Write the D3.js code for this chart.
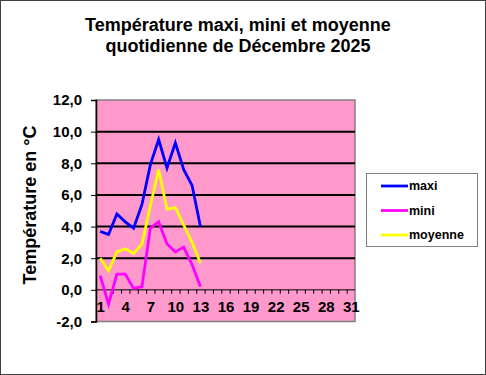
<!DOCTYPE html>
<html><head><meta charset="utf-8">
<script src="https://cdn.jsdelivr.net/npm/d3@7"></script>
<style>
html,body{margin:0;padding:0;background:#fff;}
svg{display:block;font-family:"Liberation Sans",Arial,sans-serif;}
</style></head>
<body>
<svg id="chart" width="486" height="375"></svg>
<script>
const days = d3.range(1, 14);
const maxi = [3.7, 3.5, 4.8, 4.3, 3.9, 5.4, 7.9, 9.5, 7.7, 9.3, 7.6, 6.6, 4.0];
const mini = [0.9, -0.9, 1.0, 1.0, 0.1, 0.2, 3.9, 4.3, 2.9, 2.4, 2.7, 1.6, 0.2];
const moyenne = [2.0, 1.2, 2.4, 2.6, 2.3, 2.9, 5.3, 7.6, 5.1, 5.2, 4.1, 3.0, 1.7];
const yTicks = [-2, 0, 2, 4, 6, 8, 10, 12];
const xLabels = [1, 4, 7, 10, 13, 16, 19, 22, 25, 28, 31];
const seriesNames = ["maxi", "mini", "moyenne"];
const seriesColors = ["#0000FF", "#FF00FF", "#FFFF00"];
const titleLines = ["Température maxi, mini et moyenne", "quotidienne de Décembre 2025"];
const yTitle = "Température en °C";

const svg = d3.select("#chart");
const W = 486, H = 375;
const L = 96, R = 355, T = 100, B = 321.5;

svg.append("rect").attr("x", 0.5).attr("y", 0.5).attr("width", W - 1).attr("height", H - 1)
  .attr("fill", "#fff").attr("stroke", "#404040").attr("stroke-width", 1);

const x = d3.scaleLinear().domain([0.5, 31.5]).range([L, R]);
const y = d3.scaleLinear().domain([-2, 12]).range([B, T]);

// plot area
svg.append("rect").attr("x", L).attr("y", T).attr("width", R - L).attr("height", B - T)
  .attr("fill", "#FF99CC").attr("stroke", "#808080").attr("stroke-width", 1.5);

// gridlines
svg.append("g").selectAll("line").data(yTicks.filter(v => v > 0 && v < 12)).join("line")
  .attr("x1", L).attr("x2", R).attr("y1", d => y(d)).attr("y2", d => y(d))
  .attr("stroke", "#000").attr("stroke-width", 2);

// y axis
const yAxis = svg.append("g").attr("transform", `translate(${L},0)`)
  .call(d3.axisLeft(y).tickValues(yTicks).tickSize(5).tickPadding(9)
    .tickFormat(d => d.toFixed(1).replace(".", ",")));
yAxis.select(".domain").attr("stroke", "#000").attr("stroke-width", 1.5);
yAxis.selectAll(".tick line").attr("stroke", "#000");
yAxis.selectAll("text").attr("font-size", 15).attr("font-weight", "bold").attr("fill", "#000")
  .style("font-family", "'Liberation Sans',Arial,sans-serif");

// x axis at y=0: tick marks at category boundaries
const xAxis = svg.append("g").attr("transform", `translate(0,${y(0)})`)
  .call(d3.axisBottom(x).tickValues(d3.range(1.5, 31, 1)).tickSize(4).tickFormat(""));
xAxis.select(".domain").attr("stroke", "#000").attr("stroke-width", 1).attr("d", `M${L},0H${R}`);
xAxis.selectAll(".tick line").attr("stroke", "#000");

const xLab = svg.append("g").attr("transform", `translate(0,${y(0)})`)
  .call(d3.axisBottom(x).tickValues(xLabels).tickSize(0).tickPadding(12));
xLab.select(".domain").remove();
xLab.selectAll("text").attr("font-size", 15).attr("font-weight", "bold").attr("fill", "#000")
  .style("font-family", "'Liberation Sans',Arial,sans-serif");

// series
const line = d3.line().x((d, i) => x(days[i])).y(d => y(d));
[maxi, mini, moyenne].forEach((s, k) => {
  svg.append("path").datum(s).attr("d", line).attr("fill", "none")
    .attr("stroke", seriesColors[k]).attr("stroke-width", 2.8).attr("stroke-linejoin", "miter");
});

// title
svg.append("g").selectAll("text").data(titleLines).join("text")
  .attr("x", 238).attr("y", (d, i) => 31 + i * 21).attr("text-anchor", "middle")
  .attr("font-size", 18).attr("font-weight", "bold").attr("fill", "#000").text(d => d);

// y title
svg.append("text").attr("transform", "translate(36,205) rotate(-90)")
  .attr("text-anchor", "middle").attr("font-size", 18).attr("font-weight", "bold")
  .attr("fill", "#000").text(yTitle);

// legend
const lg = svg.append("g");
lg.append("rect").attr("x", 366.5).attr("y", 173.5).attr("width", 111).attr("height", 73)
  .attr("fill", "#fff").attr("stroke", "#808080").attr("stroke-width", 1);
seriesNames.forEach((n, k) => {
  const ly = 186 + k * 24.5;
  lg.append("line").attr("x1", 381).attr("x2", 408).attr("y1", ly).attr("y2", ly)
    .attr("stroke", seriesColors[k]).attr("stroke-width", 2.8);
  lg.append("text").attr("x", 409).attr("y", ly).attr("dy", "0.35em")
    .attr("font-size", 12.5).attr("font-weight", "bold").attr("fill", "#000").text(n);
});
</script>
</body></html>
